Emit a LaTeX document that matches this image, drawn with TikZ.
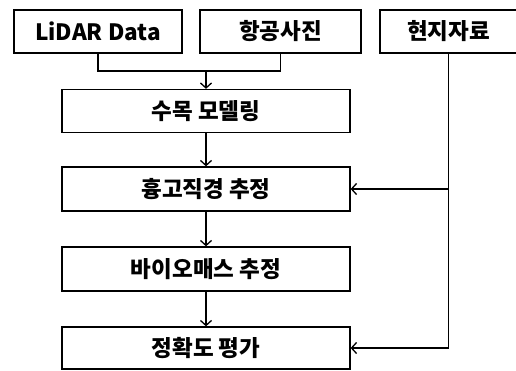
\documentclass[tikz,border=0pt]{standalone}
\usepackage{fontspec}
\setmainfont{Noto Sans CJK KR}
\usetikzlibrary{arrows.meta}

\tikzset{
  box/.style={draw=black,line width=1.3pt,fill=white,minimum height=43pt,inner sep=0pt,font=\fontsize{22.5}{26}\selectfont\bfseries},
  arr/.style={-{Straight Barb[length=5pt,width=11pt,line width=1.3pt]}},
}

\begin{document}
\begin{tikzpicture}[x=1pt,y=-1pt,line width=1.3pt]
\useasboundingbox (0,0) rectangle (516,371);

\node[box,minimum width=168pt] (lidar) at (98,31.5) {LiDAR Data};
\node[box,minimum width=161pt] (photo) at (280.5,31.5) {항공사진};
\node[box,minimum width=137pt] (field) at (448.5,31.5) {현지자료};
\node[box,minimum width=288pt] (model) at (206,111) {수목 모델링};
\node[box,minimum width=288pt,minimum height=44pt] (dbh) at (206,189) {흉고직경 추정};
\node[box,minimum width=288pt,minimum height=44pt] (bio) at (206,269) {바이오매스 추정};
\node[box,minimum width=288pt,minimum height=42pt] (acc) at (206,348) {정확도 평가};

\coordinate (join) at (206,71);
\draw (lidar.south) |- (join) -| (photo.south);
\draw[arr] (join) -- (model.north);
\draw[arr] (model) -- (dbh);
\draw[arr] (dbh) -- (bio);
\draw[arr] (bio) -- (acc);
\draw[arr] (field.south) |- (acc.east);
\draw[arr] (field.south |- dbh.east) -- (dbh.east);
\end{tikzpicture}
\end{document}
